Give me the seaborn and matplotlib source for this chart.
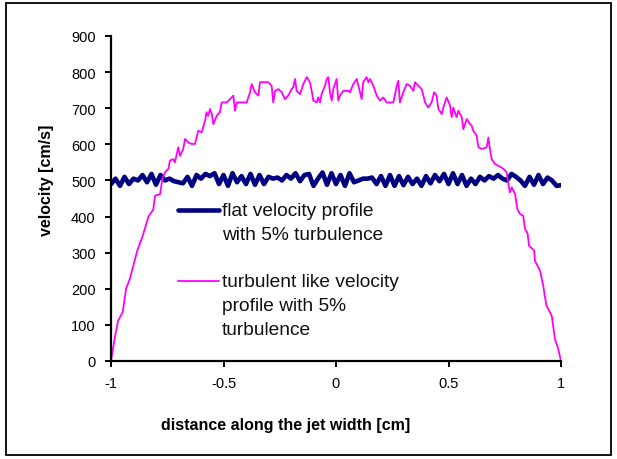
import numpy as np
import pandas as pd
import seaborn as sns
import matplotlib.pyplot as plt
from matplotlib.patches import Rectangle

# flat profile (x every 0.02 cm)
flat_x = np.round(np.arange(-1.0, 1.0001, 0.02), 2)
flat_v = [490, 505, 485, 510, 490, 505, 500, 515, 495, 518,
          488, 515, 500, 505, 498, 495, 492, 510, 485, 515,
          505, 518, 512, 520, 490, 515, 485, 520, 495, 512,
          490, 518, 488, 515, 490, 510, 505, 508, 500, 515,
          505, 520, 498, 515, 518, 485, 505, 522, 488, 520,
          490, 515, 485, 520, 495, 500, 505, 505, 508, 490,
          512, 485, 515, 485, 512, 487, 510, 490, 505, 485,
          512, 492, 515, 498, 518, 490, 520, 490, 515, 485,
          505, 490, 510, 500, 512, 505, 515, 505, 500, 518,
          510, 500, 485, 510, 488, 515, 490, 508, 500, 485,
          487]

# turbulent-like profile
turb_x = [-1.000, -0.982, -0.968, -0.948, -0.933, -0.916, -0.893, -0.883, -0.861, -0.849,
          -0.834, -0.812, -0.804, -0.782, -0.772, -0.760, -0.745, -0.738, -0.723, -0.716,
          -0.701, -0.693, -0.679, -0.671, -0.656, -0.641, -0.627, -0.612, -0.597, -0.582,
          -0.575, -0.568, -0.560, -0.552, -0.545, -0.530, -0.516, -0.508, -0.486, -0.471,
          -0.456, -0.449, -0.441, -0.397, -0.382, -0.375, -0.360, -0.345, -0.338, -0.301,
          -0.286, -0.279, -0.271, -0.256, -0.241, -0.227, -0.212, -0.197, -0.190, -0.182,
          -0.175, -0.160, -0.145, -0.130, -0.116, -0.108, -0.101, -0.086, -0.079, -0.071,
          -0.064, -0.049, -0.041, -0.034, -0.027, -0.019, -0.012, 0.003, 0.010, 0.018,
          0.032, 0.055, 0.062, 0.077, 0.092, 0.107, 0.114, 0.121, 0.136, 0.144,
          0.151, 0.166, 0.181, 0.196, 0.210, 0.225, 0.255, 0.270, 0.277, 0.284,
          0.299, 0.314, 0.329, 0.344, 0.351, 0.366, 0.381, 0.396, 0.410, 0.425,
          0.436, 0.447, 0.455, 0.470, 0.477, 0.492, 0.507, 0.514, 0.521, 0.536,
          0.544, 0.559, 0.566, 0.581, 0.596, 0.603, 0.610, 0.625, 0.633, 0.648,
          0.670, 0.677, 0.684, 0.692, 0.707, 0.721, 0.744, 0.759, 0.766, 0.773,
          0.781, 0.796, 0.806, 0.818, 0.832, 0.840, 0.852, 0.858, 0.881, 0.884,
          0.907, 0.921, 0.929, 0.936, 0.959, 0.966, 0.973, 0.988, 1.000]
turb_v = [0, 69, 112, 135, 200, 228, 283, 306, 343, 367,
          399, 420, 458, 462, 504, 522, 532, 555, 559, 550,
          592, 568, 587, 615, 605, 601, 601, 638, 633, 665,
          689, 679, 698, 684, 656, 679, 689, 716, 716, 725,
          735, 693, 716, 716, 744, 767, 744, 735, 772, 772,
          762, 716, 748, 753, 744, 725, 735, 753, 758, 781,
          748, 739, 767, 786, 772, 748, 721, 716, 730, 716,
          739, 762, 781, 786, 744, 721, 753, 781, 721, 735,
          748, 748, 744, 767, 781, 744, 725, 772, 786, 772,
          781, 762, 735, 721, 730, 716, 716, 762, 776, 716,
          744, 767, 762, 748, 772, 762, 753, 716, 702, 716,
          744, 735, 698, 684, 702, 730, 707, 675, 702, 675,
          693, 675, 642, 670, 656, 652, 638, 624, 592, 587,
          592, 619, 587, 559, 545, 541, 532, 522, 490, 467,
          481, 462, 421, 407, 402, 366, 352, 319, 306, 278,
          250, 209, 176, 153, 125, 93, 61, 33, 0]

flat_label = "flat velocity profile\nwith 5% turbulence"
turb_label = "turbulent like velocity\nprofile with 5%\nturbulence"
x_ticks = [-1, -0.5, 0, 0.5, 1]
x_ticklabels = ["-1", "-0.5", "0", "0.5", "1"]
y_ticks = list(range(0, 901, 100))

sns.set_theme(style="white")
plt.rcParams['font.family'] = ['Liberation Sans', 'DejaVu Sans']

fig = plt.figure(figsize=(6.17, 4.60), dpi=100)
ax = fig.add_axes([111 / 617, 98 / 460, 450 / 617, 325 / 460])

flat_df = pd.DataFrame({'x': flat_x, 'v': flat_v})
turb_df = pd.DataFrame({'x': turb_x, 'v': turb_v})
sns.lineplot(data=flat_df, x='x', y='v', color='#000080', linewidth=3.3,
             estimator=None, sort=False, label=flat_label, ax=ax)
sns.lineplot(data=turb_df, x='x', y='v', color='#ff00ff', linewidth=1.3,
             estimator=None, sort=False, label=turb_label, ax=ax)

ax.set_xlim(-1, 1)
ax.set_ylim(0, 900)
ax.set_xticks(x_ticks)
ax.set_xticklabels(x_ticklabels)
ax.set_yticks(y_ticks)
for s in ['top', 'right']:
    ax.spines[s].set_visible(False)
for s in ['left', 'bottom']:
    ax.spines[s].set_color('black')
    ax.spines[s].set_linewidth(1.6)
ax.tick_params(axis='both', direction='out', length=4, width=1.4, color='black',
               labelsize=10.5, pad=7, left=True, bottom=True, labelcolor='black')

ax.set_xlabel("distance along the jet width [cm]", fontsize=11.5, fontweight='bold', color='black')
ax.set_ylabel("velocity [cm/s]", fontsize=11.5, fontweight='bold', color='black')
ax.xaxis.set_label_coords(0.387, -0.172)
ax.yaxis.set_label_coords(-0.127, 0.56)

leg = ax.legend(loc='upper left', bbox_to_anchor=(0.149, 0.49), frameon=False,
                fontsize=13.8, handlelength=2.15, handleheight=1.1, handletextpad=0.15,
                labelspacing=1.6, borderaxespad=0, borderpad=0)
for t in leg.get_texts():
    t.set_linespacing(1.52)
    t.set_color('#111111')
# put each handle level with the first line of its label, as in the source chart
for col in leg._legend_handle_box.get_children():
    for item in col.get_children():
        item.align = 'top'

fig.patches.append(Rectangle((6 / 617, 4 / 460), 605 / 617, 452 / 460,
                             transform=fig.transFigure, fill=False,
                             edgecolor='black', linewidth=1.3))

plt.savefig('out.png', dpi=100)
plt.close()
